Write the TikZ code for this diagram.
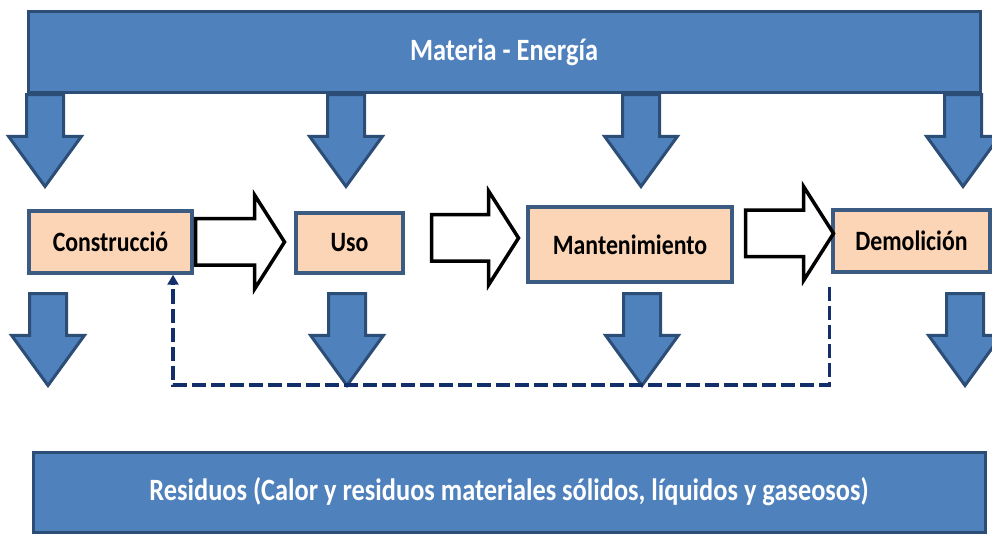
\documentclass[tikz,border=0pt]{standalone}
\usepackage{fontspec}
\setmainfont{Carlito}[FakeStretch=0.85]
\usetikzlibrary{positioning, shapes.arrows, arrows.meta}

\definecolor{barblue}{HTML}{4F81BD}
\definecolor{barline}{HTML}{2C4D75}
\definecolor{stagefill}{HTML}{FBD5B5}
\definecolor{stageline}{HTML}{3B5B82}
\definecolor{loopnavy}{HTML}{132F6B}

\begin{document}
\begin{tikzpicture}[
        x=1pt, y=-1pt,
        bar/.style={draw=barline, line width=3pt, fill=barblue, text=white, font=\fontsize{31}{35}\selectfont\bfseries, minimum width=952pt, minimum height=81pt},
        stage/.style={draw=stageline, line width=3.5pt, fill=stagefill, font=\fontsize{28}{32}\selectfont\bfseries, minimum height=62pt, inner sep=0pt},
        down/.style={single arrow, draw=barline, line width=3pt, fill=barblue, rotate=-90, anchor=west, inner sep=0pt, inner ysep=17pt, single arrow head extend=18pt, single arrow tip angle=72, minimum height=92pt},
        fwd/.style={single arrow, draw=black, line width=3.5pt, fill=white, anchor=west, inner sep=0pt, inner ysep=21.5pt, single arrow head extend=23.5pt, single arrow tip angle=115},
        feedback/.style={draw=loopnavy, line width=3.5pt, dash pattern=on 14pt off 5pt, -{Triangle[width=11pt, length=10pt]}}
    ]
    \useasboundingbox (0,0) rectangle (992,534);

    % Inputs from the top bar
    \node[down] (t1) at (45,93) {};
    \node[down] (t2) at (346,93) {};
    \node[down] (t3) at (641,93) {};
    \node[down] (t4) at (963,93) {};

    % Bars
    \node[bar] (energia) at (504,52.5) {Materia - Energía};
    \node[bar, minimum height=80pt] (residuos) at (509,492) {Residuos (Calor y residuos materiales sólidos, líquidos y gaseosos)};

    % Life cycle stages
    \node[stage, minimum width=163pt] (constr) at (110.5,242) {Construcció};
    \node[stage, minimum width=107pt, minimum height=60pt] (uso) at (349.5,243) {Uso};
    \node[stage, minimum width=204pt, minimum height=75pt] (mant) at (630,244.5) {Mantenimiento};
    \node[stage, minimum width=157pt] (demol) at (911.5,241) {Demolición};

    % Stage -> stage
    \node[fwd, right=0pt of constr, minimum height=89pt] (f1) {};
    \node[fwd, right=25pt of uso, yshift=5pt, minimum height=87pt] (f2) {};
    \node[fwd, right=10pt of mant, yshift=11pt, minimum height=88pt] (f3) {};

    % Outputs towards the residues
    \node[down] (b1) at (48,292) {};
    \node[down] (b2) at (347,292) {};
    \node[down] (b3) at (642,292) {};
    \node[down] (b4) at (965,292) {};

    % Feedback loop
    \coordinate (fbcorner) at (173,385);
    \draw[feedback] ([xshift=-2pt, yshift=-13pt]demol.south west) |- (fbcorner) -- (fbcorner |- constr.south);

\end{tikzpicture}
\end{document}
